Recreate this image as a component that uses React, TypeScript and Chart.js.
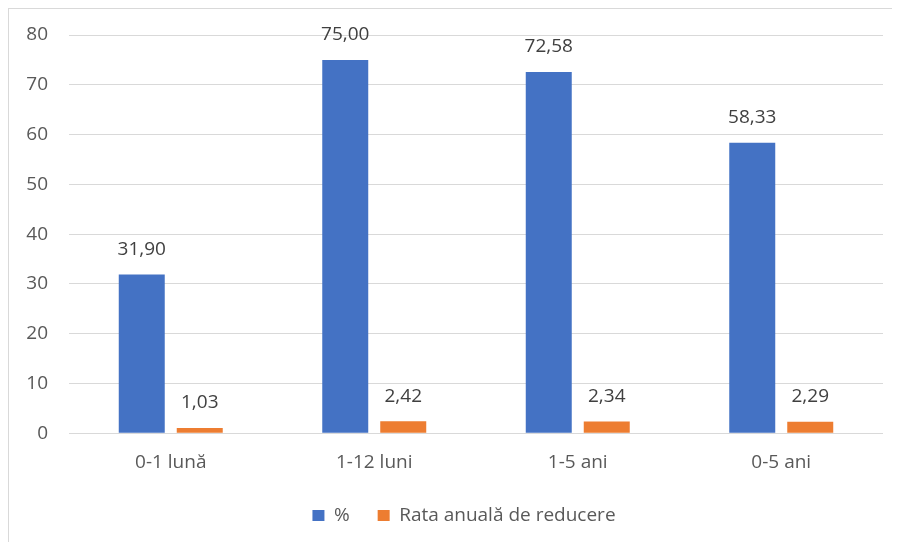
import React, { useEffect, useRef } from "react";
import { Chart, registerables } from "chart.js";

Chart.register(...registerables);

const categories = ["0-1 lună", "1-12 luni", "1-5 ani", "0-5 ani"];
const percentValues = [31.9, 75.0, 72.58, 58.33];
const rateValues = [1.03, 2.42, 2.34, 2.29];
const seriesNames = ["%", "Rata anuală de reducere"];
const yTicks = [0, 10, 20, 30, 40, 50, 60, 70, 80];

const FONT = "'Open Sans', sans-serif";
const TEXT = "#595959";
const GRID = "#D9D9D9";

const dataLabelPlugin = {
  id: "dataLabels",
  afterDatasetsDraw(chart: any) {
    const ctx = chart.ctx;
    ctx.save();
    ctx.font = `19px ${FONT}`;
    ctx.fillStyle = "#404040";
    ctx.textAlign = "center";
    ctx.textBaseline = "middle";
    chart.data.datasets.forEach((ds: any, i: number) => {
      const meta = chart.getDatasetMeta(i);
      meta.data.forEach((el: any, j: number) => {
        const v = ds.data[j] as number;
        ctx.fillText(v.toFixed(2).replace(".", ","), el.x, el.y - 25);
      });
    });
    ctx.restore();
  },
};

const legendShiftPlugin = {
  id: "legendShift",
  afterLayout(chart: any) {
    const lg = chart.legend;
    if (lg) {
      lg.left += 18;
      lg.right += 18;
    }
  },
};

export default function App() {
  const ref = useRef<HTMLCanvasElement | null>(null);
  useEffect(() => {
    if (!ref.current) return;
    const chart = new Chart(ref.current, {
      type: "bar",
      data: {
        labels: categories,
        datasets: [
          {
            label: seriesNames[0],
            data: percentValues,
            backgroundColor: "#4472C4",
            categoryPercentage: 0.57,
            barPercentage: 0.793,
          },
          {
            label: seriesNames[1],
            data: rateValues,
            backgroundColor: "#ED7D31",
            categoryPercentage: 0.57,
            barPercentage: 0.793,
          },
        ],
      },
      options: {
        animation: false,
        responsive: true,
        maintainAspectRatio: false,
        layout: { padding: { left: 0, right: 17, top: 26, bottom: 7 } },
        plugins: {
          tooltip: { enabled: false },
          legend: {
            position: "bottom",
            labels: {
              boxWidth: 12,
              boxHeight: 11,
              padding: 28,
              color: TEXT,
              font: { family: FONT, size: 19 },
            },
          },
        },
        scales: {
          x: {
            grid: { display: false, drawTicks: false },
            border: { display: false },
            ticks: { color: TEXT, font: { family: FONT, size: 19 }, padding: 18 },
            afterFit: (s: any) => {
              s.height = s.height - 14;
              s.paddingLeft = 0;
              s.paddingRight = 0;
            },
          },
          y: {
            min: 0,
            max: 80,
            afterFit: (s: any) => {
              s.width = 60;
              s.paddingTop = 0;
              s.paddingBottom = 0;
            },
            afterBuildTicks: (s: any) => {
              s.ticks = yTicks.map((v) => ({ value: v }));
            },
            grid: { color: GRID, drawTicks: false, lineWidth: 1 },
            border: { display: false },
            ticks: { color: TEXT, font: { family: FONT, size: 19 }, padding: 21 },
          },
        },
      },
      plugins: [dataLabelPlugin, legendShiftPlugin],
    });
    return () => chart.destroy();
  }, []);

  return (
    <div
      style={{
        width: 892,
        height: 534,
        boxSizing: "border-box",
        borderLeft: `1px solid ${GRID}`,
        borderTop: `1px solid ${GRID}`,
        background: "#fff",
      }}
    >
      <div style={{ position: "relative", width: 891, height: 533 }}>
        <canvas ref={ref} />
      </div>
    </div>
  );
}
